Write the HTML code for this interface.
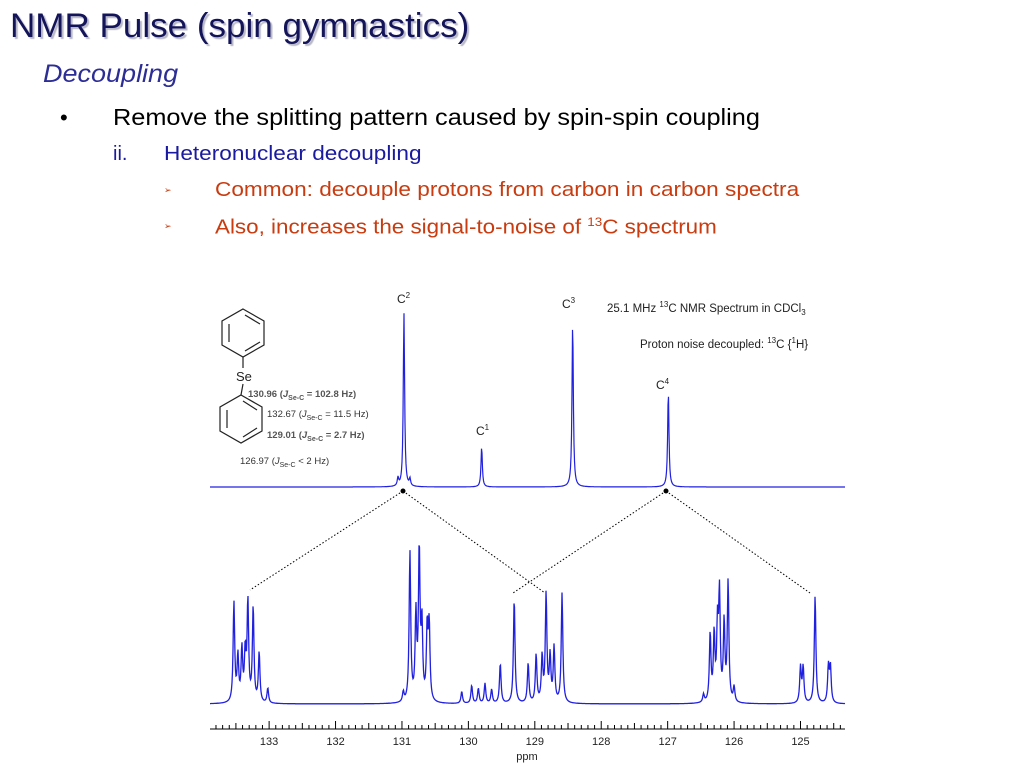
<!DOCTYPE html>
<html><head><meta charset="utf-8"><style>
html,body{margin:0;padding:0;background:#fff;}
body{width:1024px;height:768px;position:relative;overflow:hidden;font-family:"Liberation Sans",sans-serif;}
.t{position:absolute;white-space:nowrap;transform-origin:0 0;}
</style></head><body>
<div class="t" style="left:10px;top:7px;font-size:34px;color:#14145a;text-shadow:2px 2px 1px #b8b8c8;transform:scaleX(1.03)">NMR Pulse (spin gymnastics)</div>
<div class="t" style="left:43px;top:60px;font-size:25px;font-style:italic;color:#2d2d96;transform:scaleX(1.08)">Decoupling</div>
<div class="t" style="left:60px;top:105px;font-size:22px;color:#000">•</div>
<div class="t" style="left:113px;top:104px;font-size:23px;color:#000;transform:scaleX(1.1)">Remove the splitting pattern caused by spin-spin coupling</div>
<div class="t" style="left:113px;top:143px;font-size:20px;color:#1a1aa0">ii.</div>
<div class="t" style="left:164px;top:143px;font-size:20px;color:#1a1aa0;transform:scaleX(1.13)">Heteronuclear decoupling</div>
<div class="t" style="left:164px;top:185px;font-size:9px;color:#c83c10">➢</div>
<div class="t" style="left:215px;top:179px;font-size:20px;color:#c83c10;transform:scaleX(1.13)">Common: decouple protons from carbon in carbon spectra</div>
<div class="t" style="left:164px;top:221px;font-size:9px;color:#c83c10">➢</div>
<div class="t" style="left:215px;top:215px;font-size:20px;color:#c83c10;transform:scaleX(1.12)">Also, increases the signal-to-noise of <sup style="font-size:12px">13</sup>C spectrum</div>

<svg id="chart" width="1024" height="768" style="position:absolute;left:0;top:0" xmlns="http://www.w3.org/2000/svg">
<g stroke="#222" fill="none" stroke-width="1.2">
<polygon points="243,309 264,321 264,345 243,357 222,345 222,321"/>
<line x1="229" y1="324" x2="229" y2="342"/><line x1="245" y1="315" x2="260" y2="324"/><line x1="245" y1="351" x2="260" y2="342"/>
<line x1="243" y1="357" x2="243" y2="368"/>
<line x1="243" y1="384" x2="241" y2="395"/>
<polygon points="241,395 262,407 262,431 241,443 220,431 220,407"/>
<line x1="227" y1="410" x2="227" y2="428"/><line x1="243" y1="401" x2="257" y2="410"/><line x1="243" y1="437" x2="257" y2="428"/>
</g>
<text x="236" y="381" font-size="13" fill="#222">Se</text>
<g font-size="9.5" fill="#555" font-weight="bold">
<text x="248" y="397">130.96 (<tspan font-style="italic">J</tspan><tspan font-size="7" dy="3">Se-C</tspan><tspan dy="-3"> = 102.8 Hz)</tspan></text>
<text x="267" y="417" font-weight="normal" fill="#333">132.67 (<tspan font-style="italic">J</tspan><tspan font-size="7" dy="3">Se-C</tspan><tspan dy="-3"> = 11.5 Hz)</tspan></text>
<text x="267" y="438">129.01 (<tspan font-style="italic">J</tspan><tspan font-size="7" dy="3">Se-C</tspan><tspan dy="-3"> = 2.7 Hz)</tspan></text>
<text x="240" y="464" font-weight="normal" fill="#333">126.97 (<tspan font-style="italic">J</tspan><tspan font-size="7" dy="3">Se-C</tspan><tspan dy="-3"> &lt; 2 Hz)</tspan></text>
</g>
<g font-size="12" fill="#222">
<text x="397" y="303">C<tspan font-size="8" dy="-5">2</tspan></text>
<text x="562" y="308">C<tspan font-size="8" dy="-5">3</tspan></text>
<text x="476" y="435">C<tspan font-size="8" dy="-5">1</tspan></text>
<text x="656" y="389">C<tspan font-size="8" dy="-5">4</tspan></text>
<text x="607" y="312" font-size="11.5">25.1 MHz <tspan font-size="8" dy="-5">13</tspan><tspan dy="5">C NMR Spectrum in CDCl</tspan><tspan font-size="8" dy="3">3</tspan></text>
<text x="640" y="348" font-size="11.5">Proton noise decoupled: <tspan font-size="8" dy="-5">13</tspan><tspan dy="5">C {</tspan><tspan font-size="8" dy="-5">1</tspan><tspan dy="5">H}</tspan></text>
</g>
<g stroke="#000" stroke-width="1" stroke-dasharray="1.5,2" fill="none">
<line x1="403" y1="491" x2="250" y2="590"/><line x1="403" y1="491" x2="545" y2="593"/>
<line x1="666" y1="491" x2="513" y2="593"/><line x1="666" y1="491" x2="810" y2="593"/>
</g>
<circle cx="403" cy="491" r="2.5" fill="#000"/>
<circle cx="666" cy="491" r="2.5" fill="#000"/>
<g id="plot"></g>
</svg>
<script>
// top decoupled spectrum peaks
const topPpm = [131.06, 130.97, 130.88, 129.80, 128.43, 126.99];
const topHeight = [8, 174, 7, 40, 164, 95];
// lower coupled spectrum peaks
const lowPpm = [133.53,133.47,133.41,133.36,133.32,133.24,133.15,133.02,
 130.98,130.88,130.79,130.74,130.70,130.62,130.59,
 130.10,129.95,129.85,129.75,129.65,
 129.52,129.31,129.10,128.98,128.89,128.83,128.77,128.71,128.59,
 126.46,126.36,126.30,126.25,126.22,126.15,126.09,126.00,
 125.00,124.96,124.78,124.58,124.55];
const lowHeight = [100,45,52,48,100,95,50,15,
 10,150,85,150,75,73,75,
 12,18,15,20,14,
 40,105,40,48,45,108,45,55,110,
 8,68,66,72,105,78,120,15,
 36,36,108,36,36];
const tickMajor = [133,132,131,130,129,128,127,126,125];
const axisTitle = "ppm";

const X0=210, X1=845, P0=133.89, P1=124.33;
const xs = p => X0 + (P0-p)/(P0-P1)*(X1-X0);
const plotG = document.getElementById('plot');
const NS='http://www.w3.org/2000/svg';
function mk(t,a){const e=document.createElementNS(NS,t);for(const k in a)e.setAttribute(k,a[k]);plotG.appendChild(e);return e;}
function spectrum(ppms,hs,base,w){
  let d='';
  for(let px=X0;px<=X1;px+=0.5){
    const p=P0-(px-X0)/(X1-X0)*(P0-P1);
    let s=0;
    for(let i=0;i<ppms.length;i++){const u=(p-ppms[i])/w;s+=hs[i]/(1+u*u);}
    d+=(d?'L':'M')+px.toFixed(1)+','+(base-s).toFixed(1);
  }
  return d;
}
const topSpec=mk('path',{d:spectrum(topPpm,topHeight,487,0.012),stroke:'#2020e0','stroke-width':1.2,fill:'none'});


const lowSpec=mk('path',{d:spectrum(lowPpm,lowHeight,704,0.014),stroke:'#2020e0','stroke-width':1.3,fill:'none'});


const ax=mk('line',{x1:X0,x2:X1,y1:729,y2:729,stroke:'#000','stroke-width':1});


for(let k=Math.ceil(P1*10);k<=Math.floor(P0*10);k++){
  const p=k/10, big=(k%10===0), mid=(k%5===0);
  const t=mk('line',{x1:xs(p),x2:xs(p),y1:729,y2:729-(big?8:mid?6:4),stroke:'#000','stroke-width':1});
  
  
}
tickMajor.forEach(v=>{
  const t=mk('text',{x:xs(v),y:745,'text-anchor':'middle','font-size':11,fill:'#222'});
  t.textContent=v;
  
  
});
const at=mk('text',{x:527,y:760,'text-anchor':'middle','font-size':11,fill:'#222'});
at.textContent=axisTitle;


</script>
</body></html>
